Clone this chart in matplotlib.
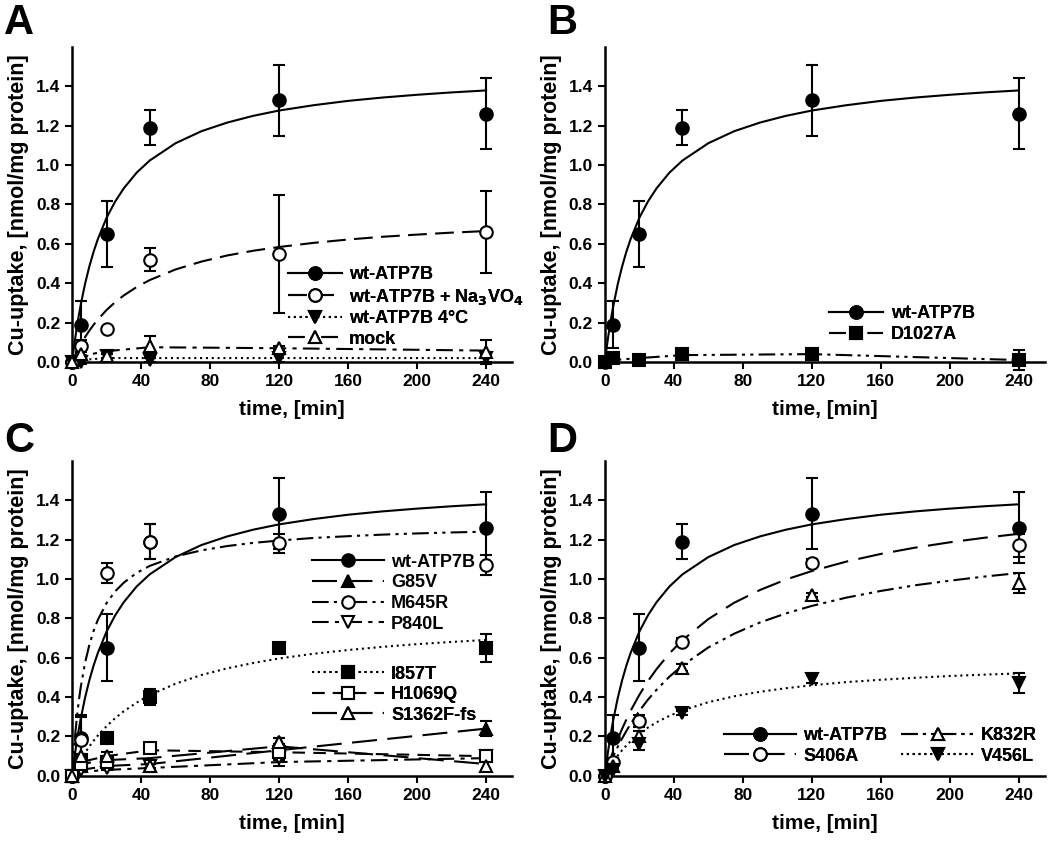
import matplotlib
matplotlib.use("Agg")
import matplotlib.pyplot as plt
from matplotlib.lines import Line2D

plt.rcParams["font.family"] = ["Liberation Sans", "DejaVu Sans"]
plt.rcParams["font.weight"] = "bold"
plt.rcParams["axes.labelweight"] = "bold"

# sampling times of the measurements
t = [0, 5, 20, 45, 120, 240]
t_fit = [0, 1, 2, 3, 4, 5, 7.5, 10, 12.5, 15, 20, 25, 30, 37.5, 45, 60, 75,
         90, 105, 120, 140, 160, 180, 200, 220, 240]

# wt-ATP7B (same in all panels)
wt_y = [0.0, 0.19, 0.65, 1.19, 1.33, 1.26]
wt_err = [0.0, 0.12, 0.17, 0.09, 0.18, 0.18]
wt_fit = [0.0, 0.068, 0.130, 0.188, 0.240, 0.288, 0.395, 0.484, 0.560, 0.625,
          0.732, 0.815, 0.882, 0.962, 1.023, 1.111, 1.172, 1.216, 1.250, 1.277,
          1.304, 1.326, 1.343, 1.357, 1.369, 1.379]

# panel A
vo4_y = [0.0, 0.08, 0.17, 0.52, 0.55, 0.66]
vo4_err = [0.0, 0.03, 0.01, 0.06, 0.30, 0.21]
vo4_fit = [0.0, 0.020, 0.038, 0.056, 0.073, 0.089, 0.126, 0.159, 0.189, 0.216,
           0.264, 0.304, 0.338, 0.381, 0.416, 0.470, 0.510, 0.541, 0.565, 0.584,
           0.605, 0.622, 0.636, 0.647, 0.657, 0.665]
cold_y = [0.0, 0.0, 0.03, 0.01, 0.02, 0.02]
cold_err = [0.0, 0.01, 0.01, 0.01, 0.02, 0.02]
cold_line = [0.0, 0.01, 0.02, 0.02, 0.02, 0.02]
mock_y = [0.0, 0.04, 0.03, 0.08, 0.07, 0.05]
mock_err = [0.0, 0.01, 0.01, 0.05, 0.01, 0.06]
mock_line = [0.0, 0.03, 0.055, 0.075, 0.07, 0.058]

# panel B
d1027a_y = [0.0, 0.02, 0.01, 0.04, 0.04, 0.01]
d1027a_err = [0.0, 0.01, 0.01, 0.01, 0.01, 0.05]
d1027a_line = [0.0, 0.01, 0.02, 0.035, 0.04, 0.01]

# panel C
g85v_y = [0.0, 0.05, 0.08, 0.05, 0.17, 0.24]
g85v_err = [0.0, 0.01, 0.02, 0.01, 0.02, 0.04]
g85v_line = [0.0, 0.03, 0.05, 0.06, 0.13, 0.24]
m645r_y = [0.0, 0.18, 1.03, 1.19, 1.18, 1.07]
m645r_err = [0.0, 0.12, 0.05, 0.09, 0.05, 0.05]
m645r_fit = [0.0, 0.124, 0.226, 0.312, 0.385, 0.448, 0.572, 0.664, 0.736,
             0.793, 0.877, 0.937, 0.981, 1.031, 1.066, 1.114, 1.145, 1.167,
             1.183, 1.195, 1.208, 1.217, 1.225, 1.231, 1.236, 1.240]
p840l_y = [0.0, 0.03, 0.04, 0.05, 0.09, 0.10]
p840l_err = [0.0, 0.01, 0.01, 0.01, 0.04, 0.01]
p840l_line = [0.0, 0.02, 0.03, 0.04, 0.07, 0.09]
i857t_y = [0.0, 0.08, 0.19, 0.40, 0.65, 0.65]
i857t_err = [0.0, 0.01, 0.01, 0.04, 0.02, 0.07]
i857t_fit = [0.0, 0.018, 0.035, 0.051, 0.067, 0.082, 0.117, 0.149, 0.178,
             0.205, 0.252, 0.293, 0.328, 0.372, 0.410, 0.468, 0.512, 0.546,
             0.573, 0.596, 0.620, 0.639, 0.655, 0.669, 0.680, 0.690]
h1069q_y = [0.0, 0.06, 0.07, 0.14, 0.12, 0.10]
h1069q_err = [0.0, 0.01, 0.01, 0.01, 0.04, 0.01]
h1069q_line = [0.0, 0.07, 0.10, 0.13, 0.12, 0.10]
s1362f_y = [0.0, 0.10, 0.10, 0.05, 0.17, 0.05]
s1362f_err = [0.0, 0.01, 0.02, 0.01, 0.02, 0.02]
s1362f_line = [0.0, 0.06, 0.08, 0.09, 0.15, 0.06]

# panel D
s406a_y = [0.0, 0.07, 0.28, 0.68, 1.08, 1.17]
s406a_err = [0.0, 0.02, 0.03, 0.02, 0.02, 0.06]
s406a_fit = [0.0, 0.028, 0.055, 0.080, 0.105, 0.129, 0.186, 0.238, 0.286,
             0.331, 0.411, 0.481, 0.542, 0.622, 0.689, 0.796, 0.879, 0.944,
             0.997, 1.040, 1.088, 1.127, 1.159, 1.186, 1.209, 1.229]
k832r_y = [0.0, 0.05, 0.20, 0.55, 0.92, 0.98]
k832r_err = [0.0, 0.01, 0.03, 0.02, 0.01, 0.05]
k832r_fit = [0.0, 0.022, 0.043, 0.063, 0.083, 0.102, 0.147, 0.189, 0.228,
             0.264, 0.329, 0.387, 0.437, 0.504, 0.560, 0.652, 0.722, 0.779,
             0.825, 0.863, 0.905, 0.939, 0.968, 0.991, 1.012, 1.030]
v456l_y = [0.0, 0.03, 0.16, 0.32, 0.49, 0.47]
v456l_err = [0.0, 0.01, 0.03, 0.01, 0.02, 0.05]
v456l_fit = [0.0, 0.016, 0.031, 0.046, 0.060, 0.073, 0.103, 0.130, 0.154,
             0.176, 0.214, 0.245, 0.272, 0.305, 0.332, 0.374, 0.404, 0.427,
             0.445, 0.460, 0.476, 0.488, 0.498, 0.507, 0.514, 0.520]

SOLID = "-"
DASH = (0, (9, 4))
LONGDASH = (0, (12, 5))
MEDDASH = (0, (6, 4))
DOT = (0, (1, 1.8))
DASHDOT = (0, (8, 3, 2, 3))
DASHDOTDOT = (0, (8, 2.5, 1.5, 2.5, 1.5, 2.5))

FILLED = "black"
OPEN = "white"


def series(ax, y, err, line_x, line_y, marker, face, ls):
    ax.plot(line_x, line_y, color="k", lw=1.5, linestyle=ls, zorder=2)
    ax.errorbar(t, y, yerr=err, fmt="none", ecolor="k", elinewidth=1.5,
                capsize=4.5, capthick=1.5, zorder=3, clip_on=False)
    ax.plot(t, y, linestyle="none", marker=marker, ms=9, mfc=face, mec="k",
            mew=1.5, zorder=4, clip_on=False)
    return Line2D([], [], color="k", lw=1.5, linestyle=ls, marker=marker,
                  ms=9, mfc=face, mec="k", mew=1.5)


def setup(ax):
    ax.set_xlim(0, 255)
    ax.set_ylim(0, 1.6)
    ax.set_xticks(range(0, 241, 40))
    ax.set_yticks([0.0, 0.2, 0.4, 0.6, 0.8, 1.0, 1.2, 1.4])
    ax.set_yticklabels(["%.1f" % v for v in ax.get_yticks()])
    ax.spines["top"].set_visible(False)
    ax.spines["right"].set_visible(False)
    ax.spines["left"].set_linewidth(1.8)
    ax.spines["bottom"].set_linewidth(1.8)
    ax.tick_params(direction="out", length=5, width=1.5, labelsize=12.5)
    for lab in ax.get_xticklabels() + ax.get_yticklabels():
        lab.set_fontweight("bold")
    ax.set_xlabel("time, [min]", fontsize=15, fontweight="bold", labelpad=8)
    ax.set_ylabel("Cu-uptake, [nmol/mg protein]", fontsize=15.5,
                  fontweight="bold", labelpad=5)


def legend(ax, handles, labels, x, y, hl, **kw):
    leg = ax.legend(handles, labels, loc="upper left", bbox_to_anchor=(x, y),
                    frameon=False, handlelength=hl,
                    handletextpad=0.4, borderpad=0, labelspacing=0.2,
                    borderaxespad=0, prop={"weight": "bold", "size": 13}, **kw)
    ax.add_artist(leg)
    return leg


fig = plt.figure(figsize=(10.5, 8.47), dpi=100)
axA = fig.add_axes([0.0686, 0.5726, 0.419, 0.372])
axB = fig.add_axes([0.576, 0.5726, 0.419, 0.372])
axC = fig.add_axes([0.0686, 0.084, 0.419, 0.372])
axD = fig.add_axes([0.576, 0.084, 0.419, 0.372])

for letter, x, y in [("A", 0.004, 0.997), ("B", 0.521, 0.997),
                     ("C", 0.004, 0.503), ("D", 0.521, 0.503)]:
    fig.text(x, y, letter, fontsize=30, fontweight="bold", va="top", ha="left")

# A
h1 = series(axA, wt_y, wt_err, t_fit, wt_fit, "o", FILLED, SOLID)
h2 = series(axA, vo4_y, vo4_err, t_fit, vo4_fit, "o", OPEN, DASH)
h3 = series(axA, cold_y, cold_err, t, cold_line, "v", FILLED, DOT)
h4 = series(axA, mock_y, mock_err, t, mock_line, "^", OPEN, DASHDOT)
setup(axA)
legend(axA, [h1, h2, h3, h4],
       ["wt-ATP7B", "wt-ATP7B + Na$_3$VO$_4$", "wt-ATP7B 4°C", "mock"],
       0.49, 0.305, 3.0)

# B
h1 = series(axB, wt_y, wt_err, t_fit, wt_fit, "o", FILLED, SOLID)
h2 = series(axB, d1027a_y, d1027a_err, t, d1027a_line, "s", FILLED, DASHDOTDOT)
setup(axB)
legend(axB, [h1, h2], ["wt-ATP7B", "D1027A"], 0.51, 0.18, 3.0)

# C
h1 = series(axC, wt_y, wt_err, t_fit, wt_fit, "o", FILLED, SOLID)
h2 = series(axC, g85v_y, g85v_err, t, g85v_line, "^", FILLED, LONGDASH)
h3 = series(axC, m645r_y, m645r_err, t_fit, m645r_fit, "o", OPEN, DASHDOTDOT)
h4 = series(axC, p840l_y, p840l_err, t, p840l_line, "v", OPEN, DASHDOT)
h5 = series(axC, i857t_y, i857t_err, t_fit, i857t_fit, "s", FILLED, DOT)
h6 = series(axC, h1069q_y, h1069q_err, t, h1069q_line, "s", OPEN, MEDDASH)
h7 = series(axC, s1362f_y, s1362f_err, t, s1362f_line, "^", OPEN, LONGDASH)
setup(axC)
legend(axC, [h1, h2, h3, h4], ["wt-ATP7B", "G85V", "M645R", "P840L"],
       0.545, 0.705, 4.0)
legend(axC, [h5, h6, h7], ["I857T", "H1069Q", "S1362F-fs"],
       0.545, 0.35, 4.0)

# D
h1 = series(axD, wt_y, wt_err, t_fit, wt_fit, "o", FILLED, SOLID)
h2 = series(axD, s406a_y, s406a_err, t_fit, s406a_fit, "o", OPEN, LONGDASH)
h3 = series(axD, k832r_y, k832r_err, t_fit, k832r_fit, "^", OPEN, DASHDOTDOT)
h4 = series(axD, v456l_y, v456l_err, t_fit, v456l_fit, "v", FILLED, DOT)
setup(axD)
legend(axD, [h1, h2, h3, h4], ["wt-ATP7B", "S406A", "K832R", "V456L"],
       0.27, 0.155, 4.0, ncol=2, columnspacing=0.8)

fig.savefig("out.png", dpi=100)
